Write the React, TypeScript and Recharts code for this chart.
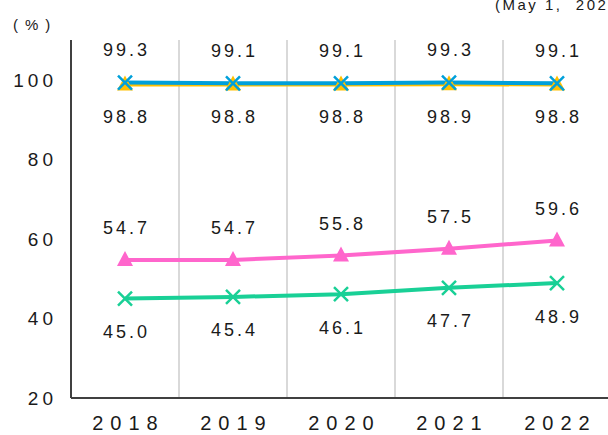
import { CartesianGrid, LabelList, Line, LineChart, ReferenceLine, XAxis, YAxis } from "recharts";

const years = ["2018", "2019", "2020", "2021", "2022"];
const blueValues = [99.3, 99.1, 99.1, 99.3, 99.1];
const yellowValues = [98.8, 98.8, 98.8, 98.9, 98.8];
const pinkValues = [54.7, 54.7, 55.8, 57.5, 59.6];
const greenValues = [45.0, 45.4, 46.1, 47.7, 48.9];
const yTicks = [20, 40, 60, 80, 100];
const xTicks = [1, 2, 3, 4, 5];
const dividers = [1.5, 2.5, 3.5, 4.5];

const data = years.map((year, i) => ({
  x: i + 1,
  year,
  blue: blueValues[i],
  yellow: yellowValues[i],
  pink: pinkValues[i],
  green: greenValues[i],
}));

const FONT = "'Liberation Sans', Arial, sans-serif";

function Triangle({ cx, cy, fill }: { cx?: number; cy?: number; fill: string }) {
  if (cx == null || cy == null) return null;
  return (
    <path
      d={`M${cx},${cy - 9} L${cx + 8},${cy + 6} L${cx - 8},${cy + 6} Z`}
      fill={fill}
    />
  );
}

function Cross({ cx, cy, stroke }: { cx?: number; cy?: number; stroke: string }) {
  if (cx == null || cy == null) return null;
  const r = 7;
  return (
    <path
      d={`M${cx - r},${cy - r} L${cx + r},${cy + r} M${cx + r},${cy - r} L${cx - r},${cy + r}`}
      stroke={stroke}
      strokeWidth={2.5}
      fill="none"
    />
  );
}

function makeLabel(offset: number) {
  return (props: any) => {
    const { x, y, value } = props;
    return (
      <text
        x={x + 1.5}
        y={y + offset}
        dy="0.36em"
        textAnchor="middle"
        fontFamily={FONT}
        fontSize={18}
        letterSpacing={3}
        fill="#1a1a1a"
      >
        {Number(value).toFixed(1)}
      </text>
    );
  };
}

export default function App() {
  return (
    <div style={{ position: "relative", width: 608, height: 435, overflow: "hidden", background: "#fff" }}>
      <style>{`body{margin:0}`}</style>
      <div style={{ position: "absolute", left: 0, top: 0 }}>
        <LineChart
          width={620}
          height={435}
          data={data}
          margin={{ top: 40, right: 9, left: 0, bottom: 0 }}
        >
          <CartesianGrid horizontal={false} vertical={false} />
          {dividers.map((d) => (
            <ReferenceLine key={d} x={d} stroke="#d9d9d9" strokeWidth={2} />
          ))}
          <XAxis
            dataKey="x"
            type="number"
            domain={[0.5, 5.5]}
            ticks={xTicks}
            tickFormatter={(v: number) => years[v - 1]}
            height={37}
            tickSize={0}
            tickMargin={18}
            tickLine={false}
            axisLine={{ stroke: "#404040", strokeWidth: 2 }}
            tick={{ fontFamily: FONT, fontSize: 20, letterSpacing: 7, fill: "#1a1a1a", dx: 3.5 }}
          />
          <YAxis
            type="number"
            domain={[20, 110]}
            ticks={yTicks}
            width={71}
            tickSize={0}
            tickMargin={14}
            tickLine={false}
            axisLine={{ stroke: "#404040", strokeWidth: 2 }}
            tick={{ fontFamily: FONT, fontSize: 19, letterSpacing: 4, fill: "#1a1a1a" }}
          />
          <Line
            dataKey="yellow"
            stroke="#ffc000"
            strokeWidth={4}
            isAnimationActive={false}
            dot={(p: any) => <Triangle key={`y${p.index}`} cx={p.cx} cy={p.cy} fill="#ffc000" />}
          >
            <LabelList dataKey="yellow" content={makeLabel(32)} />
          </Line>
          <Line
            dataKey="blue"
            stroke="#00a0da"
            strokeWidth={4}
            isAnimationActive={false}
            dot={(p: any) => <Cross key={`b${p.index}`} cx={p.cx} cy={p.cy} stroke="#00a0da" />}
          >
            <LabelList dataKey="blue" content={makeLabel(-33)} />
          </Line>
          <Line
            dataKey="pink"
            stroke="#ff66cc"
            strokeWidth={4}
            isAnimationActive={false}
            dot={(p: any) => <Triangle key={`p${p.index}`} cx={p.cx} cy={p.cy} fill="#ff66cc" />}
          >
            <LabelList dataKey="pink" content={makeLabel(-32)} />
          </Line>
          <Line
            dataKey="green"
            stroke="#19d096"
            strokeWidth={4}
            isAnimationActive={false}
            dot={(p: any) => <Cross key={`g${p.index}`} cx={p.cx} cy={p.cy} stroke="#19d096" />}
          >
            <LabelList dataKey="green" content={makeLabel(33)} />
          </Line>
        </LineChart>
      </div>
      <div
        style={{
          position: "absolute",
          left: 495,
          top: -4,
          fontFamily: FONT,
          fontSize: 15,
          lineHeight: "17px",
          letterSpacing: 2.5,
          whiteSpace: "nowrap",
          color: "#1a1a1a",
        }}
      >
        (May 1,&nbsp; 2022)
      </div>
      <div
        style={{
          position: "absolute",
          left: 13,
          top: 16,
          fontFamily: FONT,
          fontSize: 15,
          lineHeight: "17px",
          letterSpacing: 7,
          color: "#1a1a1a",
        }}
      >
        (%)
      </div>
    </div>
  );
}
